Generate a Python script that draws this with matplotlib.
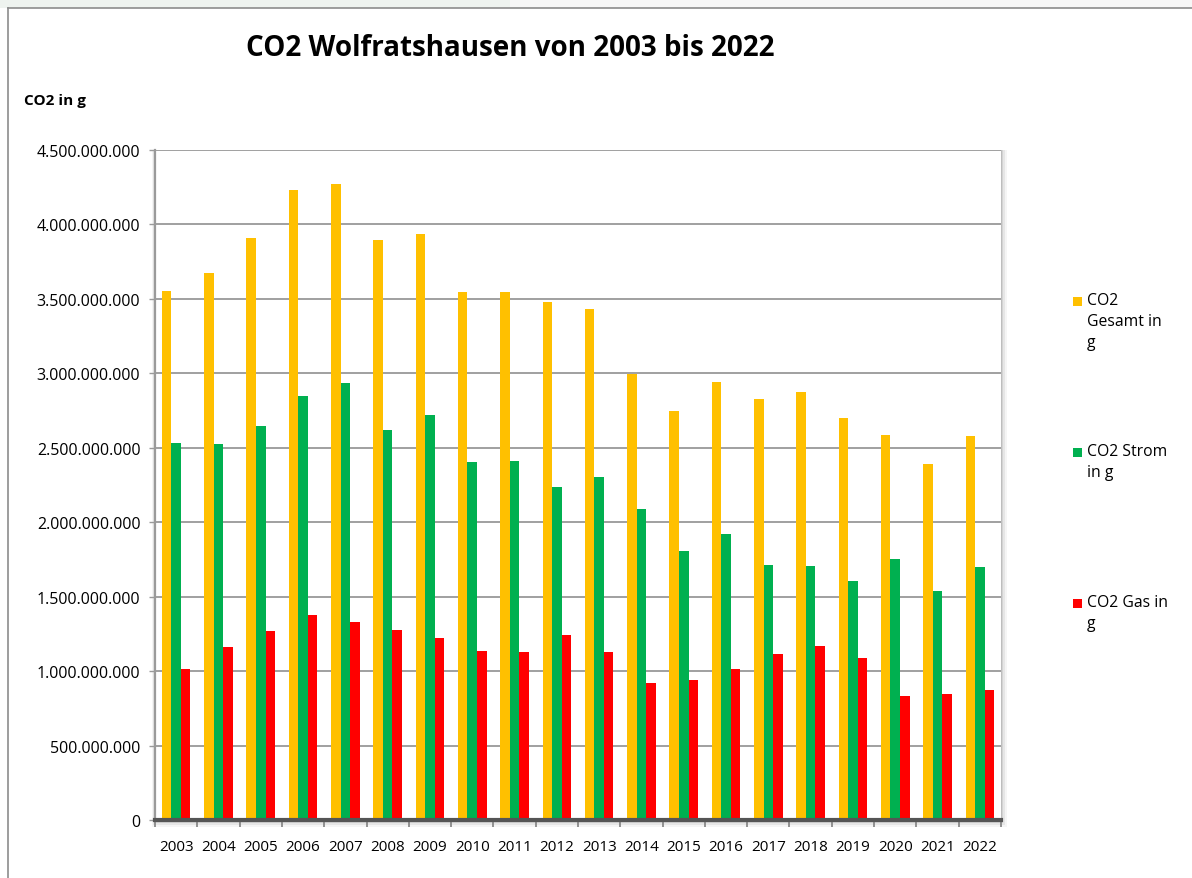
import numpy as np
import matplotlib.pyplot as plt
from matplotlib.patches import Rectangle
from matplotlib.lines import Line2D
from matplotlib.ticker import FuncFormatter

years = [str(y) for y in range(2003, 2023)]
co2_gesamt = [3.553e9, 3.676e9, 3.909e9, 4.234e9, 4.270e9, 3.898e9, 3.936e9,
              3.544e9, 3.544e9, 3.479e9, 3.434e9, 2.995e9, 2.745e9, 2.939e9,
              2.829e9, 2.874e9, 2.699e9, 2.587e9, 2.392e9, 2.578e9]
co2_strom = [2.531e9, 2.523e9, 2.644e9, 2.849e9, 2.933e9, 2.617e9, 2.718e9,
             2.402e9, 2.413e9, 2.234e9, 2.301e9, 2.086e9, 1.808e9, 1.918e9,
             1.714e9, 1.705e9, 1.602e9, 1.750e9, 1.539e9, 1.696e9]
co2_gas = [1.017e9, 1.159e9, 1.268e9, 1.380e9, 1.333e9, 1.277e9, 1.223e9,
           1.138e9, 1.129e9, 1.241e9, 1.129e9, 0.917e9, 0.943e9, 1.017e9,
           1.118e9, 1.167e9, 1.091e9, 0.831e9, 0.849e9, 0.876e9]
series_labels = ["CO2\nGesamt in\ng", "CO2 Strom\nin g", "CO2 Gas in\ng"]
colors = ["#ffc000", "#00b050", "#ff0000"]

plt.rcParams['font.family'] = ['Open Sans', 'DejaVu Sans']

W, H = 1192, 879
fig = plt.figure(figsize=(W / 100, H / 100), dpi=100)

# light window strip at the very top + outer chart border
fig.patches.append(Rectangle((0, 1 - 9 / H), 510 / W, 9 / H, transform=fig.transFigure,
                             facecolor="#eef3ef", edgecolor="none", zorder=-5))
fig.patches.append(Rectangle((510 / W, 1 - 9 / H), 1 - 510 / W, 9 / H, transform=fig.transFigure,
                             facecolor="#f7f7f7", edgecolor="none", zorder=-5))
fig.lines.append(Line2D([8 / W, 1], [1 - 9 / H, 1 - 9 / H], transform=fig.transFigure,
                        color="#8c8c8c", lw=1.2))
fig.lines.append(Line2D([8 / W, 8 / W], [0, 1 - 9 / H], transform=fig.transFigure,
                        color="#8c8c8c", lw=1.2))

left, right, top, bottom = 155, 1001, 151, 821
ax = fig.add_axes([left / W, 1 - bottom / H, (right - left) / W, (bottom - top) / H])

# soft shadow around the plot area
for k, a in [(7, 0.04), (5, 0.06), (3, 0.08), (1.5, 0.10)]:
    fig.patches.append(Rectangle(((left - k / 2) / W, 1 - (bottom + k) / H),
                                 (right - left + k * 1.3) / W, (bottom - top + k) / H,
                                 transform=fig.transFigure, facecolor="black",
                                 edgecolor="none", alpha=a, zorder=-1))

x = np.arange(len(years))
bw = 0.225
for i, (vals, c) in enumerate(zip([co2_gesamt, co2_strom, co2_gas], colors)):
    ax.bar(x + (i - 1) * bw, vals, width=bw, color=c, edgecolor="none", zorder=3)

ax.set_xlim(-0.5, len(years) - 0.5)
ax.set_ylim(0, 4.5e9)
ax.set_yticks(np.arange(0, 4.5e9 + 1, 5e8))
ax.yaxis.set_major_formatter(FuncFormatter(lambda v, p: f"{v:,.0f}".replace(",", ".")))
ax.grid(axis="y", color="#a0a0a0", lw=1.4, zorder=0)
ax.set_axisbelow(True)

ax.set_xticks(x)
ax.set_xticklabels(years)
ax.set_xticks(np.arange(-0.5, len(years), 1), minor=True)
ax.tick_params(axis="x", which="major", length=0, pad=14, labelsize=11, colors="#000000")
ax.tick_params(axis="x", which="minor", length=5, width=1.2, color="#808080", direction="out")
ax.tick_params(axis="y", length=4.5, width=1, color="#9a9a9a", pad=6, labelsize=11.5)

for s in ["top", "right"]:
    ax.spines[s].set_visible(False)
ax.spines["left"].set_color("#9a9a9a")
ax.spines["left"].set_linewidth(1.6)
ax.spines["bottom"].set_color("#555555")
ax.spines["bottom"].set_linewidth(3.0)
ax.spines["bottom"].set_zorder(5)

fig.text(510 / W, 1 - 48 / H, "CO2 Wolfratshausen von 2003 bis 2022", ha="center",
         va="center", fontsize=20, fontweight="bold")
fig.text(24 / W, 1 - 101 / H, "CO2 in g", ha="left", va="center", fontsize=11,
         fontweight="bold")

# legend drawn like the Excel one: marker aligned with the first text line
legend_tops = [297, 448, 599]
for lab, c, ty in zip(series_labels, colors, legend_tops):
    fig.patches.append(Rectangle((1073 / W, 1 - (ty + 10) / H), 9 / W, 9 / H,
                                 transform=fig.transFigure, facecolor=c, edgecolor="none"))
    fig.text(1087 / W, 1 - (ty - 4) / H, lab, ha="left", va="top", fontsize=11.3,
             linespacing=1.42)

fig.savefig("out.png", dpi=100)
